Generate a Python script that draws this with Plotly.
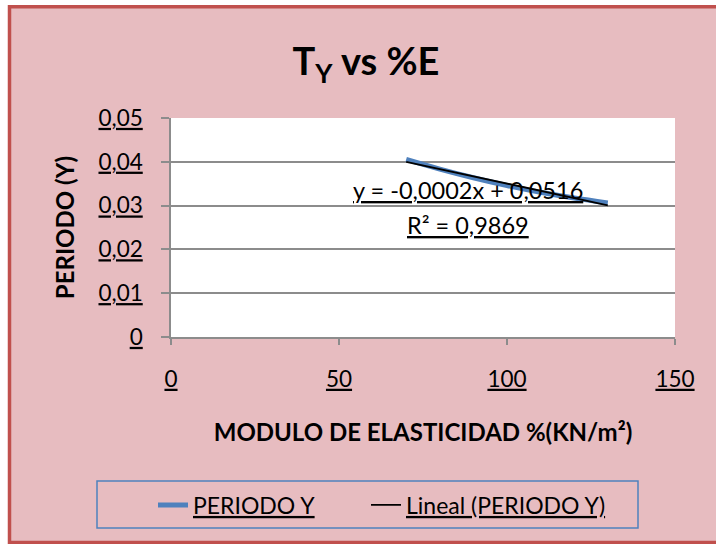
import numpy as np
import plotly.graph_objects as go

# Elasticity modulus (%E) and measured period T_Y
modulo_e = [70, 80, 90, 100, 110, 120, 130]
periodo_y = [0.04055, 0.03834, 0.03636, 0.03459, 0.03304, 0.03172, 0.03061]

x_ticks = [0, 50, 100, 150]
x_ticktext = ["0", "50", "100", "150"]
y_ticks = [0, 0.01, 0.02, 0.03, 0.04, 0.05]
y_ticktext = ["0", "0,01", "0,02", "0,03", "0,04", "0,05"]

# Linear trendline over the data range
slope, intercept = np.polyfit(modulo_e, periodo_y, 1)
x_fit = np.array([min(modulo_e), max(modulo_e)])
y_fit = slope * x_fit + intercept
pred = slope * np.array(modulo_e) + intercept
ss_res = np.sum((np.array(periodo_y) - pred) ** 2)
ss_tot = np.sum((np.array(periodo_y) - np.mean(periodo_y)) ** 2)
r2 = 1 - ss_res / ss_tot


def comma(v, nd):
    return f"{v:.{nd}f}".replace(".", ",")


eq_text = f"y = {comma(slope, 4)}x + {comma(intercept, 4)}"
r2_text = f"R² = {comma(r2, 4)}"

FONT = "Lato"
W, H = 716, 544
L, R, T, B = 171, 41, 118, 207
PW, PH = W - L - R, H - T - B


def px_x(p):
    return (p - L) / PW


def px_y(p):
    return (H - B - p) / PH


fig = go.Figure()
fig.add_trace(go.Scatter(
    x=modulo_e, y=periodo_y, mode="lines", name="<u>PERIODO Y</u>",
    line=dict(color="#4F81BD", width=5, shape="spline"), legend="legend",
))
fig.add_trace(go.Scatter(
    x=x_fit, y=y_fit, mode="lines", name="<u>Lineal (PERIODO Y)</u>",
    line=dict(color="black", width=1.8), legend="legend2",
))

shapes = [
    # chart frame
    dict(type="rect", xref="paper", yref="paper", layer="below",
         x0=px_x(9.5), x1=px_x(780), y0=px_y(542.5), y1=px_y(6.7),
         fillcolor="#E7BCC0", line=dict(color="#C0504D", width=3.5)),
    # plot area
    dict(type="rect", xref="paper", yref="paper", layer="below",
         x0=0, x1=1, y0=0, y1=1, fillcolor="white", line=dict(width=0)),
    # legend box
    dict(type="rect", xref="paper", yref="paper", layer="above",
         x0=px_x(97), x1=px_x(638), y0=px_y(528), y1=px_y(481),
         line=dict(color="#4F81BD", width=1.5)),
]

annotations = [
    dict(text=f"<u>{eq_text}</u>", xref="paper", yref="paper",
         x=px_x(468), y=px_y(190), xanchor="center", yanchor="middle",
         showarrow=False, font=dict(family=FONT, size=23.5, color="black")),
    dict(text=f"<u>{r2_text}</u>", xref="paper", yref="paper",
         x=px_x(468), y=px_y(225), xanchor="center", yanchor="middle",
         showarrow=False, font=dict(family=FONT, size=23.5, color="black")),
]

legend_style = dict(orientation="h", yanchor="middle", xanchor="left",
                    bgcolor="rgba(0,0,0,0)", itemwidth=30,
                    font=dict(family=FONT, size=23, color="black"))

fig.update_layout(
    width=W, height=H,
    margin=dict(l=L, r=R, t=T, b=B),
    paper_bgcolor="white", plot_bgcolor="rgba(0,0,0,0)",
    font=dict(family=FONT, color="black"),
    title=dict(text="<b>T<sub>Y</sub> vs %E</b>", x=366 / W, xanchor="center",
               y=1 - 62 / H, yanchor="middle",
               font=dict(family=FONT, size=38, color="black")),
    shapes=shapes, annotations=annotations,
    showlegend=True,
    legend=dict(x=px_x(153), y=px_y(505), **legend_style),
    legend2=dict(x=px_x(366), y=px_y(505), **legend_style),
    xaxis=dict(range=[0, 150], tickvals=x_ticks,
               ticktext=[f"<u>{t}</u>" for t in x_ticktext],
               showgrid=False, zeroline=False, showline=True,
               linecolor="#8C8C8C", linewidth=1.5,
               ticks="outside", ticklen=6, tickcolor="#8C8C8C", tickwidth=1.5,
               ticklabelstandoff=15,
               tickfont=dict(family=FONT, size=22.5, color="black"),
               title=dict(text="<b>MODULO DE ELASTICIDAD %(KN/m²)</b>",
                          font=dict(family=FONT, size=24, color="black"),
                          standoff=33)),
    yaxis=dict(range=[0, 0.05], tickvals=y_ticks,
               ticktext=[f"<u>{t}</u>" for t in y_ticktext],
               showgrid=True, gridcolor="#8C8C8C", gridwidth=1.5,
               zeroline=False, showline=True,
               linecolor="#8C8C8C", linewidth=1.5,
               ticks="outside", ticklen=8, tickcolor="#8C8C8C", tickwidth=1.5,
               ticklabelstandoff=14,
               tickfont=dict(family=FONT, size=22.5, color="black"),
               title=dict(text="<b>PERIODO (Y)</b>",
                          font=dict(family=FONT, size=24, color="black"),
                          standoff=17)),
)

fig.write_html("out.html")
